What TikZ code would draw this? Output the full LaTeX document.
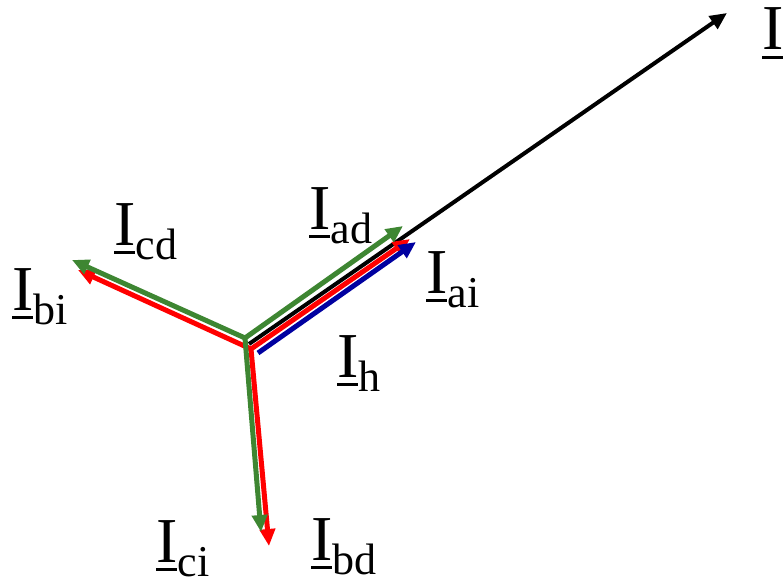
\documentclass[tikz,border=0pt]{standalone}
\usepackage{fontspec}
\setmainfont{Liberation Serif}
\usetikzlibrary{arrows.meta}
\definecolor{vgreen}{RGB}{62,134,50}
\definecolor{vred}{RGB}{255,0,0}
\definecolor{vblue}{RGB}{0,0,160}
\newcommand{\vi}[1]{\rlap{\rule[-9pt]{21pt}{3pt}}I\raisebox{-14pt}{\fontsize{44}{44}\selectfont #1}}
\begin{document}
\begin{tikzpicture}[x=1pt,y=-1pt,
  vec/.style={line width=5pt,-{Triangle[length=17pt,width=15pt]}},
  vecboth/.style={line width=5pt,{Triangle[length=17pt,width=15pt]}-{Triangle[length=17pt,width=15pt]}},
  lbl/.style={inner sep=0pt,anchor=base west,font=\fontsize{64}{64}\selectfont}]
\useasboundingbox (0,0) rectangle (783,583);
% origins
\coordinate (ko) at (249,344);
\coordinate (go) at (245,338);
\coordinate (ro) at (251,349);
\coordinate (bo) at (258,353);
% tips
\coordinate (kt) at (727,13);
\coordinate (gad) at (403,226);
\coordinate (gcd) at (72,260);
\coordinate (gdn) at (261,532);
\coordinate (rai) at (410,239);
\coordinate (rbi) at (78,270);
\coordinate (rdn) at (269,546);
\coordinate (bt) at (416,242);
% vectors
\draw[vec,line width=4pt,black] (ko) -- (kt);
\draw[vecboth,vred] (rbi) -- (ro) -- (rai);
\draw[vec,vred] (ro) -- (rdn);
\draw[vec,vblue] (bo) -- (bt);
\draw[vecboth,vgreen] (gcd) -- (go) -- (gad);
\draw[vec,vgreen] (go) -- (gdn);
% labels
\node[lbl] (lad) at (309,229) {\vi{ad}};
\node[lbl] (lai) at (426,293) {\vi{ai}};
\node[lbl] (lh) at (337,377) {\vi{h}};
\node[lbl] (lcd) at (114,245) {\vi{cd}};
\node[lbl] (lbi) at (12,310) {\vi{bi}};
\node[lbl] (lci) at (156,562) {\vi{ci}};
\node[lbl] (lbd) at (311,560) {\vi{bd}};
\node[lbl] (ltop) at (762,50) {\rlap{\rule[-9pt]{21pt}{3pt}}I};
\end{tikzpicture}
\end{document}
